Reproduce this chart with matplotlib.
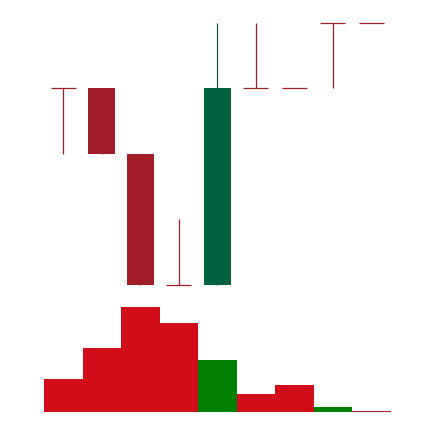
import numpy as np
import matplotlib.pyplot as plt

# candles (price levels)
opens  = [13, 13, 12, 10, 10, 13, 13, 14, 14]
highs  = [13, 13, 12, 11, 14, 14, 13, 14, 14]
lows   = [12, 12, 10, 10, 10, 13, 13, 13, 14]
closes = [13, 12, 10, 10, 13, 13, 13, 14, 14]

volumes = [33, 64, 105, 89, 52, 18, 27, 5, 1]
vol_colors = ['#D20D1A', '#D20D1A', '#D20D1A', '#D20D1A', '#007F00',
              '#D20D1A', '#D20D1A', '#007F00', '#A11D2A']

up_color = '#00623F'
down_color = '#A11D2A'

fig = plt.figure(figsize=(4.34, 4.22), dpi=100)
W, H = 434, 422
left = 44 / W
width = 346.7 / W

ax = fig.add_axes([left, (H - 295) / H, width, 285 / H])
axv = fig.add_axes([left, (H - 411.7) / H, width, 111.7 / H])

x = np.arange(len(opens))
body_w = 0.7
tick_w = 0.65

for i in x:
    o, h, l, c = opens[i], highs[i], lows[i], closes[i]
    if o == c:
        # doji: wick plus horizontal line
        ax.plot([i, i], [l, h], color=down_color, lw=0.9, solid_capstyle='butt')
        ax.plot([i - tick_w / 2, i + tick_w / 2], [o, o], color=down_color, lw=0.9, solid_capstyle='butt')
    else:
        col = up_color if c > o else down_color
        ax.plot([i, i], [l, h], color=col, lw=0.9, solid_capstyle='butt')
        ax.bar(i, abs(c - o), bottom=min(o, c), width=body_w, color=col, linewidth=0)

ax.set_xlim(-0.5, len(opens) - 0.5)
ax.set_ylim(9.847, 14.198)
ax.axis('off')

axv.bar(x, volumes, width=1.0, color=vol_colors, linewidth=0)
axv.set_xlim(-0.5, len(opens) - 0.5)
axv.set_ylim(0, 111.7)
axv.axis('off')

plt.savefig('out.png', dpi=100, facecolor='white')
